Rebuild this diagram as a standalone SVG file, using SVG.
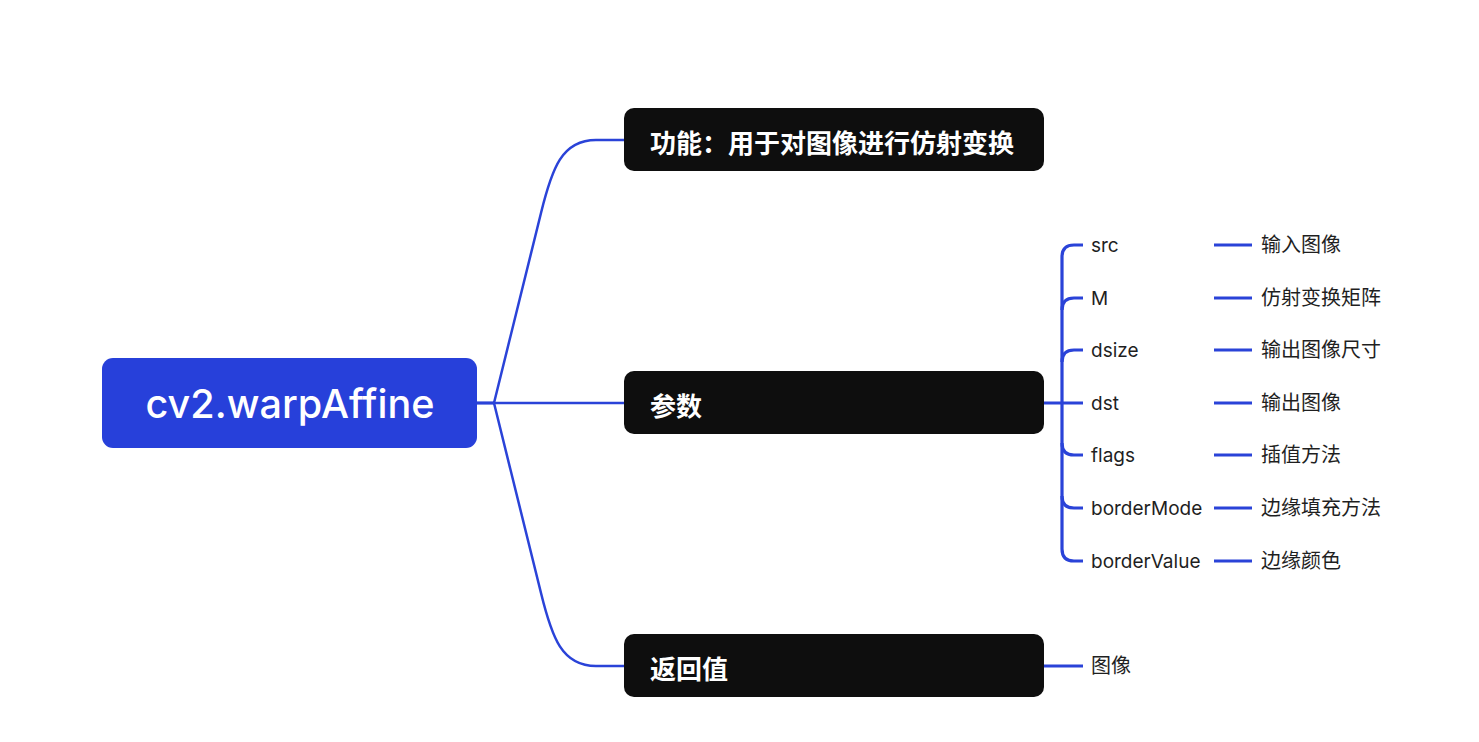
<svg xmlns="http://www.w3.org/2000/svg" width="1479" height="742" viewBox="0 0 1479 742">
<style>
.link{fill:none;stroke:#2A43D8;stroke-width:2.5;stroke-linecap:round}
.thick{fill:none;stroke:#2A43D8;stroke-width:3.2}
.box{fill:#0E0E0E}
.btxt{font-family:"Noto Sans CJK SC","Noto Sans",sans-serif;font-weight:700;font-size:26px;fill:#FFFFFF}
.lbl{font-family:Inter,"Noto Sans CJK SC",sans-serif;font-size:19px;fill:#1F1F1F}
.cjk{font-family:"Noto Sans CJK SC",sans-serif;font-size:20px;fill:#1F1F1F}
</style>
<rect width="1479" height="742" fill="#FFFFFF"/>
<g id="connectors">
<path class="thick" d="M477,403 L494,403"/>
<path class="link" d="M494,403 L541,213 C552,168 562,140 596,140 L624,140"/>
<path class="link" d="M494,403 L624,403"/>
<path class="link" d="M494,403 L541,593 C552,638 562,666 596,666 L624,666"/>
<path class="thick" d="M1044,403 L1083,403"/>
<path class="thick" d="M1083,245 L1074,245 Q1062,245 1062,257 L1062,549 Q1062,561 1074,561 L1083,561"/>
<path class="thick" d="M1083,298 L1074,298 Q1062,298 1062,310"/>
<path class="thick" d="M1083,350 L1074,350 Q1062,350 1062,362"/>
<path class="thick" d="M1083,455 L1074,455 Q1062,455 1062,443"/>
<path class="thick" d="M1083,508 L1074,508 Q1062,508 1062,496"/>
<path class="thick" d="M1214,245 L1252,245"/>
<path class="thick" d="M1214,298 L1252,298"/>
<path class="thick" d="M1214,350 L1252,350"/>
<path class="thick" d="M1214,403 L1252,403"/>
<path class="thick" d="M1214,455 L1252,455"/>
<path class="thick" d="M1214,508 L1252,508"/>
<path class="thick" d="M1214,561 L1252,561"/>
<path class="thick" d="M1044,666 L1083,666"/>
</g>
<g id="root">
<rect x="102" y="358" width="375" height="90" rx="11" fill="#2740DA"/>
<text x="290" y="418" text-anchor="middle" font-family="Inter,sans-serif" font-weight="500" font-size="40" fill="#FFFFFF" textLength="289" lengthAdjust="spacingAndGlyphs">cv2.warpAffine</text>
</g>
<g id="func">
<rect class="box" x="624" y="108" width="420" height="63" rx="10"/>
<text class="btxt" x="650" y="153">功能：用于对图像进行仿射变换</text>
</g>
<g id="params">
<rect class="box" x="624" y="371" width="420" height="63" rx="10"/>
<text class="btxt" x="650" y="416">参数</text>
</g>
<g id="ret">
<rect class="box" x="624" y="634" width="420" height="63" rx="10"/>
<text class="btxt" x="650" y="679">返回值</text>
</g>
<g id="p-src"><text class="lbl" x="1091" y="252">src</text></g>
<g id="p-M"><text class="lbl" x="1091" y="305">M</text></g>
<g id="p-dsize"><text class="lbl" x="1091" y="357">dsize</text></g>
<g id="p-dst"><text class="lbl" x="1091" y="410">dst</text></g>
<g id="p-flags"><text class="lbl" x="1091" y="462">flags</text></g>
<g id="p-borderMode"><text class="lbl" x="1091" y="515">borderMode</text></g>
<g id="p-borderValue"><text class="lbl" x="1091" y="568">borderValue</text></g>
<g id="d-src"><text class="cjk" x="1261" y="252">输入图像</text></g>
<g id="d-M"><text class="cjk" x="1261" y="305">仿射变换矩阵</text></g>
<g id="d-dsize"><text class="cjk" x="1261" y="357">输出图像尺寸</text></g>
<g id="d-dst"><text class="cjk" x="1261" y="410">输出图像</text></g>
<g id="d-flags"><text class="cjk" x="1261" y="462">插值方法</text></g>
<g id="d-borderMode"><text class="cjk" x="1261" y="515">边缘填充方法</text></g>
<g id="d-borderValue"><text class="cjk" x="1261" y="568">边缘颜色</text></g>
<g id="r-img"><text class="cjk" x="1091" y="673">图像</text></g>
</svg>
